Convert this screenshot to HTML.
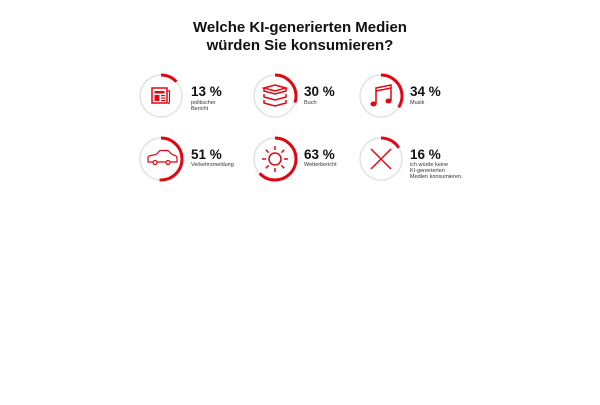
<!DOCTYPE html>
<html><head><meta charset="utf-8"><style>
body{margin:0;width:600px;height:400px;background:#fff;font-family:"Liberation Sans",sans-serif;}
</style></head><body>
<svg width="600" height="400" xmlns="http://www.w3.org/2000/svg" font-family="Liberation Sans, sans-serif">
<text x="300" y="32" text-anchor="middle" font-size="15" font-weight="bold" fill="#111">Welche KI-generierten Medien</text>
<text x="300" y="50" text-anchor="middle" font-size="15" font-weight="bold" fill="#111">würden Sie konsumieren?</text>
<g fill="none" stroke="#e2e2e2" stroke-width="1.5">
<circle cx="161" cy="96" r="21"/><circle cx="275" cy="96" r="21"/><circle cx="381" cy="96" r="21"/>
<circle cx="161" cy="159" r="21"/><circle cx="275" cy="159" r="21"/><circle cx="381" cy="159" r="21"/>
</g>
<g fill="none" stroke="#e30613" stroke-width="3">
<circle cx="161" cy="96" r="21" stroke-dasharray="17.2 200" transform="rotate(-90 161 96)"/>
<circle cx="275" cy="96" r="21" stroke-dasharray="39.6 200" transform="rotate(-90 275 96)"/>
<circle cx="381" cy="96" r="21" stroke-dasharray="44.9 200" transform="rotate(-90 381 96)"/>
<circle cx="161" cy="159" r="21" stroke-dasharray="67.3 200" transform="rotate(-90 161 159)"/>
<circle cx="275" cy="159" r="21" stroke-dasharray="83.1 200" transform="rotate(-90 275 159)"/>
<circle cx="381" cy="159" r="21" stroke-dasharray="21.1 200" transform="rotate(-90 381 159)"/>
</g>
<!-- icons -->
<g fill="#e30613" stroke="#e30613">
<rect x="152" y="88" width="15" height="15" fill="none" stroke-width="1.5"/>
<rect x="154.5" y="91" width="10" height="2.5" stroke="none"/>
<rect x="154.5" y="95" width="5" height="6" stroke="none"/>
<rect x="161" y="95" width="4" height="1.2" stroke="none"/><rect x="161" y="97.5" width="4" height="1.2" stroke="none"/><rect x="161" y="100" width="4" height="1.2" stroke="none"/>
<path d="M167 91 h2.5 v11 a1.5 1.5 0 0 1 -1.5 1.5" fill="none" stroke-width="1.2"/>
</g>
<g fill="none" stroke="#e30613" stroke-width="1.5">
<path d="M264 88 l11 -3 l11 3 l-11 3 z"/><path d="M264 88 v3 l11 3 l11 -3 v-3"/>
<path d="M264 94 v3 l11 3 l11 -3 v-3"/><path d="M264 100 v3 l11 3 l11 -3 v-3"/>
</g>
<g fill="#e30613" stroke="#e30613" stroke-width="1.5">
<path d="M376 104 V88 L391 85 V101" fill="none"/><path d="M376 91 L391 88" fill="none"/>
<ellipse cx="373.5" cy="104" rx="3" ry="2.5" stroke="none"/><ellipse cx="388.5" cy="101" rx="3" ry="2.5" stroke="none"/>
</g>
<g fill="none" stroke="#e30613" stroke-width="1.2">
<path d="M148 162 v-4 q0 -2 3 -2.5 l5 -1 l4 -4 h8 l4 4 l3 1 q2 0.5 2 3 v3.5 z"/>
<circle cx="155" cy="162.5" r="2" fill="#fff"/><circle cx="168" cy="162.5" r="2" fill="#fff"/>
</g>
<g fill="none" stroke="#e30613" stroke-width="1.5">
<circle cx="275" cy="159" r="6"/>
<path d="M275 146 v4 M275 168 v4 M262 159 h4 M284 159 h4 M265.8 149.8 l2.8 2.8 M281.4 165.4 l2.8 2.8 M265.8 168.2 l2.8 -2.8 M281.4 152.6 l2.8 -2.8"/>
</g>
<g stroke="#e30613" stroke-width="1.5"><path d="M371 149 L391 169 M391 149 L371 169"/></g>
<g font-weight="bold" font-size="13.5" fill="#111">
<text x="191" y="96">13 %</text><text x="304" y="96">30 %</text><text x="410" y="96">34 %</text>
<text x="191" y="159">51 %</text><text x="304" y="159">63 %</text><text x="410" y="159">16 %</text>
</g>
<g font-size="5.5" fill="#333">
<text x="191" y="104">politischer</text><text x="191" y="110">Bericht</text>
<text x="304" y="104">Buch</text><text x="410" y="104">Musik</text>
<text x="191" y="166">Verkehrsmeldung</text><text x="304" y="166">Wetterbericht</text>
<text x="410" y="166">ich würde keine</text><text x="410" y="172">KI-generierten</text><text x="410" y="178">Medien konsumieren.</text>
</g>
</svg>
</body></html>
